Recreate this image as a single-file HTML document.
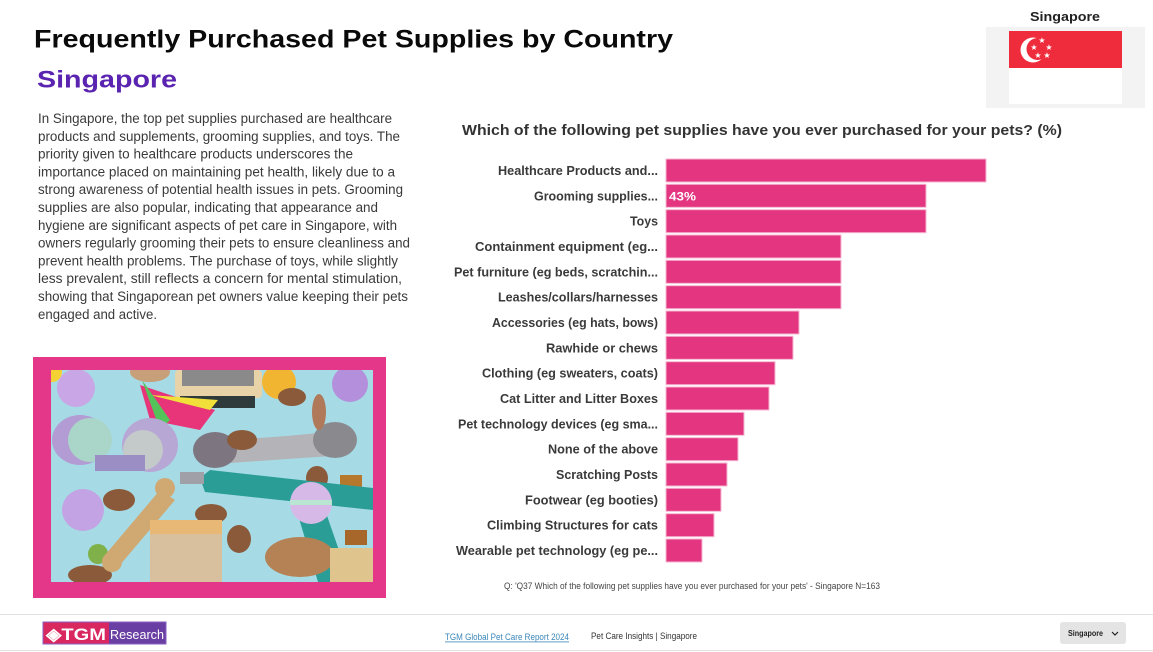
<!DOCTYPE html>
<html>
<head>
<meta charset="utf-8">
<style>
html,body{margin:0;padding:0;background:#fff;}
svg{display:block;}
</style>
</head>
<body>
<svg width="1153" height="652" viewBox="0 0 1153 652" xmlns="http://www.w3.org/2000/svg" font-family="Liberation Sans, sans-serif">
<rect width="1153" height="652" fill="#ffffff"/>

<!-- Title -->
<text x="34" y="47.5" font-size="25" font-weight="bold" fill="#0a0a0a" textLength="639" lengthAdjust="spacingAndGlyphs">Frequently Purchased Pet Supplies by Country</text>
<text x="37" y="87.5" font-size="24" font-weight="bold" fill="#5a24b0" textLength="140" lengthAdjust="spacingAndGlyphs">Singapore</text>

<!-- Flag box -->
<text x="1065" y="21" font-size="13" font-weight="bold" fill="#222" text-anchor="middle" textLength="70" lengthAdjust="spacingAndGlyphs">Singapore</text>
<rect x="986" y="27" width="159" height="81" fill="#f3f3f3"/>
<rect x="1009" y="31" width="113" height="73" fill="#ffffff"/>
<rect x="1009" y="31" width="113" height="37" fill="#ee2c3c"/>
<circle cx="1033" cy="50" r="12.5" fill="#ffffff"/>
<circle cx="1037.5" cy="49" r="11" fill="#ee2c3c"/>
<g fill="#ffffff" font-size="8" text-anchor="middle">
<text x="1042" y="43">★</text>
<text x="1034" y="50">★</text>
<text x="1049" y="50">★</text>
<text x="1038" y="58">★</text>
<text x="1047" y="58">★</text>
</g>

<!-- Paragraph -->
<g font-size="13.5" fill="#3a3a3a" font-family="Liberation Sans, sans-serif">
<text x="38" y="123" textLength="354" lengthAdjust="spacingAndGlyphs">In Singapore, the top pet supplies purchased are healthcare</text>
<text x="38" y="140.8" textLength="362" lengthAdjust="spacingAndGlyphs">products and supplements, grooming supplies, and toys. The</text>
<text x="38" y="158.6" textLength="315" lengthAdjust="spacingAndGlyphs">priority given to healthcare products underscores the</text>
<text x="38" y="176.4" textLength="357" lengthAdjust="spacingAndGlyphs">importance placed on maintaining pet health, likely due to a</text>
<text x="38" y="194.2" textLength="365" lengthAdjust="spacingAndGlyphs">strong awareness of potential health issues in pets. Grooming</text>
<text x="38" y="212" textLength="340" lengthAdjust="spacingAndGlyphs">supplies are also popular, indicating that appearance and</text>
<text x="38" y="229.8" textLength="359" lengthAdjust="spacingAndGlyphs">hygiene are significant aspects of pet care in Singapore, with</text>
<text x="38" y="247.6" textLength="372" lengthAdjust="spacingAndGlyphs">owners regularly grooming their pets to ensure cleanliness and</text>
<text x="38" y="265.4" textLength="360" lengthAdjust="spacingAndGlyphs">prevent health problems. The purchase of toys, while slightly</text>
<text x="38" y="283.2" textLength="364" lengthAdjust="spacingAndGlyphs">less prevalent, still reflects a concern for mental stimulation,</text>
<text x="38" y="301" textLength="370" lengthAdjust="spacingAndGlyphs">showing that Singaporean pet owners value keeping their pets</text>
<text x="38" y="318.8" textLength="119" lengthAdjust="spacingAndGlyphs">engaged and active.</text>
</g>

<!-- Photo frame -->
<rect x="33" y="357" width="353" height="241" fill="#e4378a"/>
<clipPath id="ph"><rect x="51" y="370" width="322" height="212"/></clipPath>
<g clip-path="url(#ph)">
<rect x="51" y="370" width="322" height="212" fill="#a6dbe6"/>
<circle cx="76" cy="388" r="19" fill="#c9a6e6"/>
<circle cx="52" cy="372" r="10" fill="#f5d234"/>
<rect x="175" y="370" width="87" height="28" rx="4" fill="#e8d2a8"/>
<rect x="182" y="370" width="72" height="16" fill="#8a8a8a"/>
<rect x="180" y="396" width="75" height="12" fill="#2f3a3a"/>
<circle cx="279" cy="382" r="17" fill="#f1b531"/>
<circle cx="350" cy="384" r="18" fill="#b48fdc"/>
<path d="M140 385 L215 410 L200 430 L150 420 Z" fill="#e8357a"/>
<path d="M150 395 L218 400 L210 410 Z" fill="#f1e03a"/>
<path d="M142 380 L160 430 L170 420 Z" fill="#54c45a"/>
<ellipse cx="80" cy="440" rx="28" ry="25" fill="#b39bd4"/>
<ellipse cx="90" cy="440" rx="22" ry="22" fill="#a9d6c8"/>
<ellipse cx="150" cy="445" rx="28" ry="27" fill="#b7a7d4"/>
<ellipse cx="143" cy="450" rx="20" ry="20" fill="#c4c9c9"/>
<rect x="95" y="455" width="50" height="16" fill="#9b8ec4"/>
<path d="M200 440 Q260 440 345 430 L348 455 Q270 460 205 465 Z" fill="#b4b4b8"/>
<ellipse cx="215" cy="450" rx="22" ry="18" fill="#7d7580"/>
<ellipse cx="335" cy="440" rx="22" ry="18" fill="#8a8a8e"/>
<ellipse cx="242" cy="440" rx="15" ry="10" fill="#8a5a3a"/>
<ellipse cx="292" cy="397" rx="14" ry="9" fill="#8a5a3a"/>
<ellipse cx="319" cy="412" rx="7" ry="18" fill="#b07a5a"/>
<ellipse cx="317" cy="478" rx="11" ry="12" fill="#8a5a3a"/>
<rect x="340" y="475" width="22" height="14" fill="#b5782c"/>
<ellipse cx="119" cy="500" rx="16" ry="11" fill="#8a5a3a"/>
<ellipse cx="211" cy="514" rx="16" ry="10" fill="#8a5a3a"/>
<ellipse cx="239" cy="539" rx="12" ry="14" fill="#8a5a3a"/>
<ellipse cx="90" cy="575" rx="22" ry="10" fill="#8a5a3a"/>
<ellipse cx="98" cy="554" rx="10" ry="10" fill="#7fb04a"/>
<ellipse cx="150" cy="372" rx="20" ry="10" fill="#c7a07a"/>
<path d="M200 478 L210 470 L373 488 L373 510 L205 492 Z" fill="#2a9d96"/>
<path d="M298 515 L325 510 L350 582 L318 582 Z" fill="#2a9d96"/>
<rect x="180" y="472" width="24" height="12" fill="#a0a0a8"/>
<circle cx="311" cy="503" r="21" fill="#d7b9e8"/>
<rect x="290" y="500" width="42" height="5" fill="#b9e6d2"/>
<circle cx="83" cy="510" r="21" fill="#c3a3e3"/>
<path d="M105 555 L160 490 L175 500 L120 565 Z" fill="#d0a872"/>
<circle cx="165" cy="488" r="10" fill="#d0a872"/>
<circle cx="112" cy="562" r="10" fill="#d0a872"/>
<rect x="150" y="520" width="72" height="62" fill="#d8c09f"/>
<rect x="150" y="520" width="72" height="14" fill="#e8b877"/>
<ellipse cx="300" cy="557" rx="35" ry="20" fill="#b58255"/>
<rect x="330" y="548" width="43" height="34" fill="#e0c48e"/>
<rect x="345" y="530" width="22" height="15" fill="#a8672a"/>
</g>

<!-- Chart title -->
<text x="462" y="135" font-size="15" font-weight="bold" fill="#333" textLength="600" lengthAdjust="spacingAndGlyphs">Which of the following pet supplies have you ever purchased for your pets? (%)</text>

<!-- Bars -->
<g fill="#e33580" stroke="#f6b7d2" stroke-width="1">
<rect x="666" y="159" width="320" height="23"/>
<rect x="666" y="184.3" width="260" height="23"/>
<rect x="666" y="209.7" width="260" height="23"/>
<rect x="666" y="235" width="175" height="23"/>
<rect x="666" y="260.3" width="175" height="23"/>
<rect x="666" y="285.7" width="175" height="23"/>
<rect x="666" y="311" width="133" height="23"/>
<rect x="666" y="336.3" width="127" height="23"/>
<rect x="666" y="361.7" width="109" height="23"/>
<rect x="666" y="387" width="103" height="23"/>
<rect x="666" y="412.3" width="78" height="23"/>
<rect x="666" y="437.7" width="72" height="23"/>
<rect x="666" y="463" width="61" height="23"/>
<rect x="666" y="488.3" width="55" height="23"/>
<rect x="666" y="513.7" width="48" height="23"/>
<rect x="666" y="539" width="36" height="23"/>
</g>
<text x="669" y="200.5" font-size="12" font-weight="bold" fill="#ffffff" textLength="27" lengthAdjust="spacingAndGlyphs">43%</text>

<!-- Labels -->
<g font-size="12.5" font-weight="bold" fill="#3a3a3a" text-anchor="end">
<text x="658" y="175" textLength="160" lengthAdjust="spacingAndGlyphs">Healthcare Products and...</text>
<text x="658" y="200.3" textLength="124" lengthAdjust="spacingAndGlyphs">Grooming supplies...</text>
<text x="658" y="225.7" textLength="28" lengthAdjust="spacingAndGlyphs">Toys</text>
<text x="658" y="251" textLength="183" lengthAdjust="spacingAndGlyphs">Containment equipment (eg...</text>
<text x="658" y="276.3" textLength="204" lengthAdjust="spacingAndGlyphs">Pet furniture (eg beds, scratchin...</text>
<text x="658" y="301.7" textLength="160" lengthAdjust="spacingAndGlyphs">Leashes/collars/harnesses</text>
<text x="658" y="327" textLength="166" lengthAdjust="spacingAndGlyphs">Accessories (eg hats, bows)</text>
<text x="658" y="352.3" textLength="112" lengthAdjust="spacingAndGlyphs">Rawhide or chews</text>
<text x="658" y="377.7" textLength="176" lengthAdjust="spacingAndGlyphs">Clothing (eg sweaters, coats)</text>
<text x="658" y="403" textLength="158" lengthAdjust="spacingAndGlyphs">Cat Litter and Litter Boxes</text>
<text x="658" y="428.3" textLength="200" lengthAdjust="spacingAndGlyphs">Pet technology devices (eg sma...</text>
<text x="658" y="453.7" textLength="110" lengthAdjust="spacingAndGlyphs">None of the above</text>
<text x="658" y="479" textLength="102" lengthAdjust="spacingAndGlyphs">Scratching Posts</text>
<text x="658" y="504.3" textLength="133" lengthAdjust="spacingAndGlyphs">Footwear (eg booties)</text>
<text x="658" y="529.7" textLength="171" lengthAdjust="spacingAndGlyphs">Climbing Structures for cats</text>
<text x="658" y="555" textLength="202" lengthAdjust="spacingAndGlyphs">Wearable pet technology (eg pe...</text>
</g>

<!-- Footnote -->
<text x="504" y="589" font-size="9" fill="#444" textLength="376" lengthAdjust="spacingAndGlyphs">Q: 'Q37 Which of the following pet supplies have you ever purchased for your pets' - Singapore N=163</text>

<!-- Footer -->
<rect x="0" y="614" width="1153" height="1" fill="#e2e2e2"/>
<rect x="0" y="650" width="1153" height="1" fill="#e2e2e2"/>
<rect x="43" y="622" width="123" height="22" fill="#6a3fa3"/>
<rect x="43" y="622" width="66" height="22" fill="#d8285f"/>
<rect x="43" y="622" width="123" height="22" fill="none" stroke="#8a5fc0" stroke-width="1"/>
<text x="46" y="640" font-size="17" font-weight="bold" fill="#ffffff" textLength="60" lengthAdjust="spacingAndGlyphs">◈TGM</text>
<text x="110" y="639" font-size="13" fill="#ffffff" textLength="54" lengthAdjust="spacingAndGlyphs">Research</text>

<text x="445" y="640" font-size="9" fill="#3a86b8" textLength="124" lengthAdjust="spacingAndGlyphs">TGM Global Pet Care Report 2024</text>
<rect x="445" y="641.5" width="124" height="0.8" fill="#3a86b8"/>
<text x="591" y="639" font-size="9" fill="#333" textLength="106" lengthAdjust="spacingAndGlyphs">Pet Care Insights | Singapore</text>

<rect x="1060" y="622" width="66" height="22" rx="3" fill="#e4e4e4"/>
<text x="1068" y="636" font-size="8" font-weight="bold" fill="#222" textLength="35" lengthAdjust="spacingAndGlyphs">Singapore</text>
<path d="M1112 632 L1115 635 L1118 632" fill="none" stroke="#222" stroke-width="1.2"/>
</svg>
</body>
</html>
